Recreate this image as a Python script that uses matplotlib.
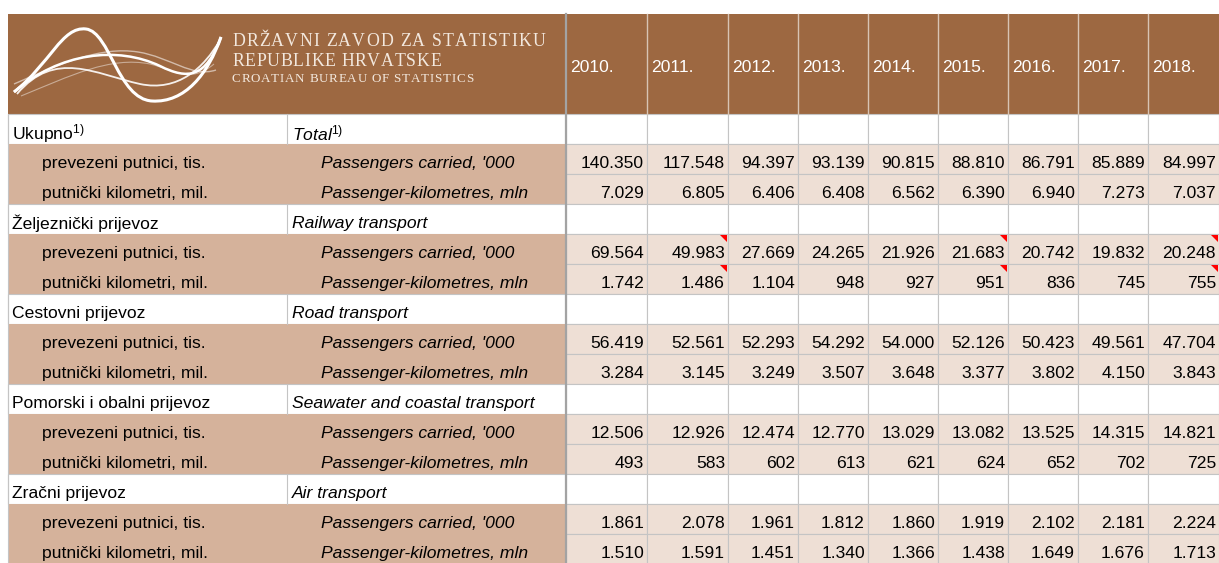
"""
Putnički prijevoz 2010.-2018. (DZS) -- tablica nacrtana u matplotlibu.
"""

import matplotlib.pyplot as plt
from matplotlib.font_manager import FontProperties
from matplotlib.patches import PathPatch, Polygon, Rectangle
from matplotlib.path import Path

plt.rcParams["font.family"] = ["Liberation Sans", "DejaVu Sans"]
plt.rcParams["mathtext.fontset"] = "custom"
plt.rcParams["mathtext.rm"] = "Liberation Sans"
plt.rcParams["mathtext.it"] = "Liberation Sans:italic"

# ----------------------------------------------------------------------
# Podaci
# ----------------------------------------------------------------------

years = ["2010.", "2011.", "2012.", "2013.", "2014.", "2015.", "2016.", "2017.", "2018."]

groups_hr = [r"Ukupno$^{\mathrm{1)}}$", "Željeznički prijevoz", "Cestovni prijevoz",
             "Pomorski i obalni prijevoz", "Zračni prijevoz"]
groups_en = [r"Total$^{\mathit{1)}}$", "Railway transport", "Road transport",
             "Seawater and coastal transport", "Air transport"]

sub_hr = ["prevezeni putnici, tis.", "putnički kilometri, mil."]
sub_en = ["Passengers carried, '000", "Passenger-kilometres, mln"]

total_pass = [140350, 117548, 94397, 93139, 90815, 88810, 86791, 85889, 84997]
total_pkm = [7029, 6805, 6406, 6408, 6562, 6390, 6940, 7273, 7037]
rail_pass = [69564, 49983, 27669, 24265, 21926, 21683, 20742, 19832, 20248]
rail_pkm = [1742, 1486, 1104, 948, 927, 951, 836, 745, 755]
road_pass = [56419, 52561, 52293, 54292, 54000, 52126, 50423, 49561, 47704]
road_pkm = [3284, 3145, 3249, 3507, 3648, 3377, 3802, 4150, 3843]
sea_pass = [12506, 12926, 12474, 12770, 13029, 13082, 13525, 14315, 14821]
sea_pkm = [493, 583, 602, 613, 621, 624, 652, 702, 725]
air_pass = [1861, 2078, 1961, 1812, 1860, 1919, 2102, 2181, 2224]
air_pkm = [1510, 1591, 1451, 1340, 1366, 1438, 1649, 1676, 1713]

group_values = [
    (total_pass, total_pkm),
    (rail_pass, rail_pkm),
    (road_pass, road_pkm),
    (sea_pass, sea_pkm),
    (air_pass, air_pkm),
]

# ćelije s komentarom (crveni trokut): (grupa, podred, godina)
flagged = [(1, 0, "2011."), (1, 1, "2011."), (1, 0, "2015."), (1, 1, "2015."),
           (1, 0, "2018."), (1, 1, "2018.")]

logo_lines = ["DRŽAVNI ZAVOD ZA STATISTIKU", "REPUBLIKE HRVATSKE",
              "CROATIAN BUREAU OF STATISTICS"]

# ----------------------------------------------------------------------
# Izgled
# ----------------------------------------------------------------------

BROWN = "#9D6841"
TAN = "#D5B29B"
LIGHT = "#EEDFD5"
GRID = "#C4C4C4"
HDR_TXT = "#F3E8DE"

W, H = 1219, 563
left, mid = 8, 287
col_edges = [566, 647, 728, 798, 868, 938, 1008, 1078, 1148, 1219]
hdr_top, hdr_bot, row_h = 14, 114, 30.0
FS = 12.6
TXT_DY = 4.5  # Excel poravnava tekst prema dnu ćelije


def fmt(v):
    return f"{v:,}".replace(",", ".")


def spaced_text(ax, renderer, x0, x1, yc, s, size):
    """Tekst s razmakom između slova, razvučen od x0 do x1 (piksela)."""
    prop = FontProperties(family="Liberation Serif", size=size)
    widths = []
    for ch in s:
        if ch == " ":
            widths.append(0.25 * size * 100 / 72)
        else:
            widths.append(renderer.get_text_width_height_descent(ch, prop, ismath=False)[0])
    track = (x1 - x0 - sum(widths)) / (len(s) - 1)
    x = x0
    for ch, w in zip(s, widths):
        if ch != " ":
            ax.text(x, yc, ch, fontproperties=prop, color=HDR_TXT, va="center", ha="left")
        x += w + track


fig = plt.figure(figsize=(W / 100, H / 100), dpi=100)
ax = fig.add_axes([0, 0, 1, 1])
ax.set_xlim(0, W)
ax.set_ylim(H, 0)
ax.axis("off")
renderer = fig.canvas.get_renderer()

# zaglavlje
ax.add_patch(Rectangle((left, hdr_top), W - left, hdr_bot - hdr_top, color=BROWN, lw=0))
for x in col_edges[1:-1]:
    ax.plot([x, x], [hdr_top, hdr_bot], color="#D8C4B4", lw=1.0)
for x, yr in zip(col_edges[:-1], years):
    ax.text(x + 4, 67, yr, color="white", fontsize=FS, va="center", ha="left")

# logo: valovite linije
curves = [
    ([(14, 92), (50, 64), (62, 26), (86, 29), (110, 32), (118, 99), (152, 101),
      (185, 103), (208, 74), (221, 37)], 2.2, 1.0),
    ([(14, 92), (60, 52), (118, 46), (160, 66), (188, 80), (206, 78), (221, 37)], 1.8, 1.0),
    ([(17, 94), (55, 49), (95, 74), (140, 84), (178, 92), (204, 68), (220, 40)], 1.3, 0.9),
    ([(14, 84), (60, 64), (100, 46), (138, 52), (170, 57), (192, 78), (216, 70)], 1.0, 0.55),
    ([(21, 96), (70, 76), (110, 56), (150, 64), (175, 70), (190, 84), (214, 64)], 0.8, 0.45),
]
for pts, lw, alpha in curves:
    codes = [Path.MOVETO] + [Path.CURVE4] * (len(pts) - 1)
    ax.add_patch(PathPatch(Path(pts, codes), fill=False, ec="white", lw=lw, alpha=alpha))

spaced_text(ax, renderer, 232, 545, 42, logo_lines[0], 12.8)
spaced_text(ax, renderer, 232, 441, 62, logo_lines[1], 12.8)
spaced_text(ax, renderer, 232, 473, 79, logo_lines[2], 9.4)

# tijelo tablice
y = hdr_bot
for g, (hr, en) in enumerate(zip(groups_hr, groups_en)):
    # naslovni (bijeli) red grupe
    ax.add_patch(Rectangle((left, y), col_edges[0] - left, row_h, fc="white", ec=GRID, lw=0.8))
    ax.plot([mid, mid], [y, y + row_h], color=GRID, lw=0.8)
    for x0, x1 in zip(col_edges[:-1], col_edges[1:]):
        ax.add_patch(Rectangle((x0, y), x1 - x0, row_h, fc="white", ec=GRID, lw=0.8))
    ax.text(left + 4, y + row_h / 2 + TXT_DY, hr, fontsize=FS, va="center")
    ax.text(mid + 5, y + row_h / 2 + TXT_DY, en, fontsize=FS, va="center", style="italic")
    y += row_h

    # podredovi s vrijednostima
    ax.add_patch(Rectangle((left, y), col_edges[0] - left, 2 * row_h, fc=TAN, lw=0))
    for s in range(2):
        ax.text(left + 34, y + row_h / 2 + TXT_DY, sub_hr[s], fontsize=FS, va="center")
        ax.text(mid + 34, y + row_h / 2 + TXT_DY, sub_en[s], fontsize=FS, va="center",
                style="italic")
        for c, (x0, x1) in enumerate(zip(col_edges[:-1], col_edges[1:])):
            ax.add_patch(Rectangle((x0, y), x1 - x0, row_h, fc=LIGHT, ec=GRID, lw=0.8))
            ax.text(x1 - 3, y + row_h / 2 + TXT_DY, fmt(group_values[g][s][c]),
                    fontsize=FS, va="center", ha="right")
            if (g, s, years[c]) in flagged:
                ax.add_patch(Polygon([(x1 - 8, y + 1), (x1 - 1, y + 1), (x1 - 1, y + 8)],
                                     closed=True, color="red", lw=0))
        y += row_h

# rubovi
ax.plot([col_edges[0], col_edges[0]], [hdr_top, H], color="#A3A3A3", lw=1.6)
ax.plot([left, left], [hdr_bot, H], color=GRID, lw=0.8)

fig.savefig("out.png", dpi=100)
